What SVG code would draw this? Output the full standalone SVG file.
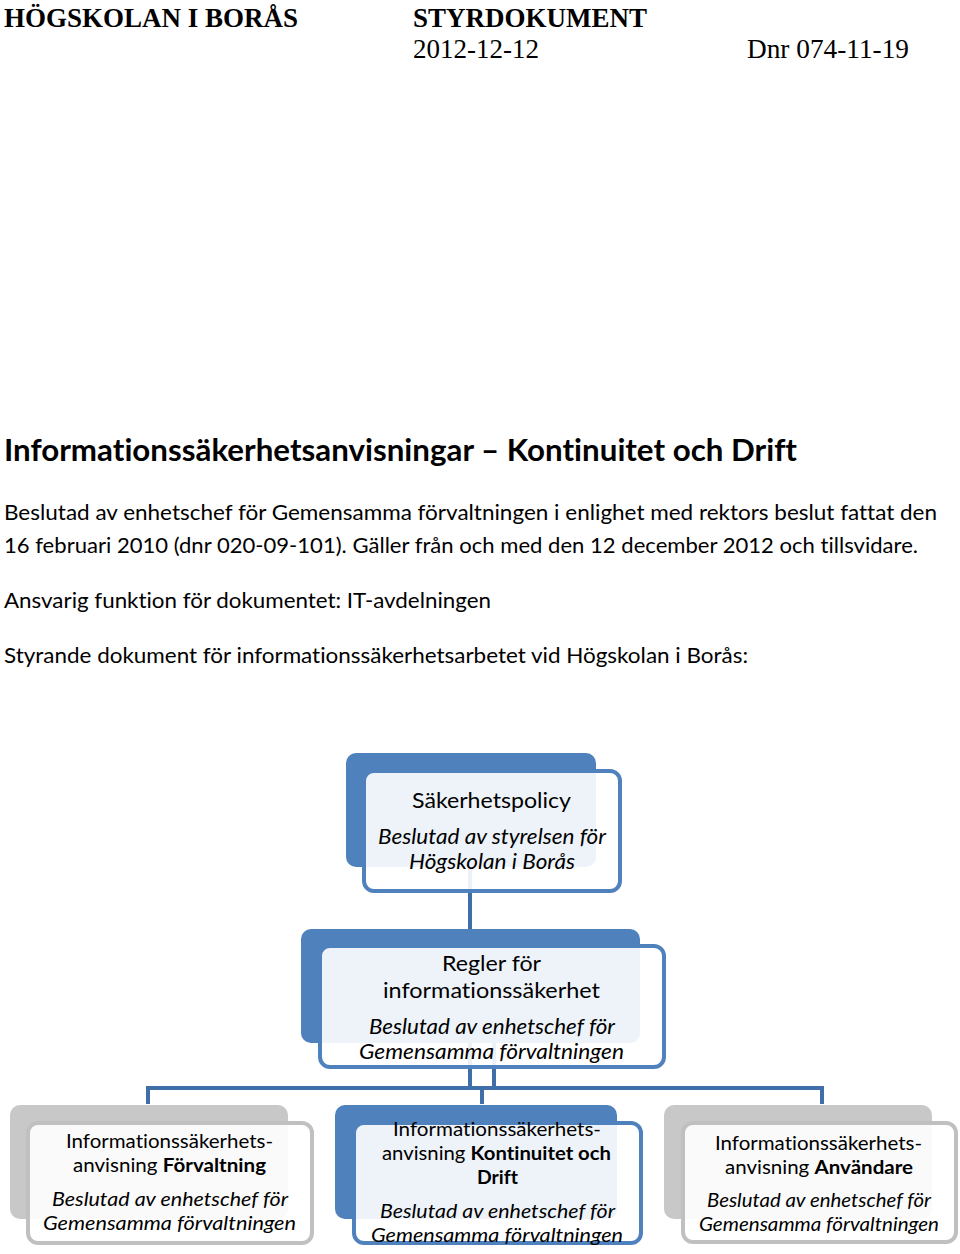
<svg xmlns="http://www.w3.org/2000/svg" width="960" height="1254" viewBox="0 0 960 1254">
<style>
text{font-variant-ligatures:none}
.hdr{font-family:"Liberation Serif","Times New Roman",serif;font-size:27px;fill:#000}
.b{font-weight:bold}
.doc{font-family:Lato,"Noto Sans",sans-serif;font-size:22px;fill:#000}
.title{font-family:Lato,"Noto Sans",sans-serif;font-size:30px;font-weight:bold;fill:#000}
.nt{font-family:Lato,"Noto Sans",sans-serif;font-size:21px;fill:#000;text-anchor:middle}
.ct{font-family:Lato,"Noto Sans",sans-serif;font-size:19.5px;fill:#000;text-anchor:middle}
.it{font-style:italic}
.backB{fill:#4f81bd}
.backG{fill:#c8c8c8}
.frontB{fill:#fff;fill-opacity:0.9;stroke:#4f81bd;stroke-width:4}
.frontG{fill:#fff;fill-opacity:0.9;stroke:#c0c0c0;stroke-width:4}
.conn{stroke:#3f6ea8;stroke-width:4;fill:none}
</style>
<rect width="960" height="1254" fill="#fff"/>
<g id="header">
<text class="hdr b" x="4" y="27" textLength="294" lengthAdjust="spacingAndGlyphs">HÖGSKOLAN I BORÅS</text>
<text class="hdr b" x="413" y="27" textLength="234" lengthAdjust="spacingAndGlyphs">STYRDOKUMENT</text>
<text class="hdr" x="413" y="58" textLength="126" lengthAdjust="spacingAndGlyphs">2012-12-12</text>
<text class="hdr" x="747" y="58" textLength="162" lengthAdjust="spacingAndGlyphs">Dnr 074-11-19</text>
</g>
<g id="intro">
<text class="title" x="4" y="461" textLength="793" lengthAdjust="spacingAndGlyphs">Informationssäkerhetsanvisningar – Kontinuitet och Drift</text>
<text class="doc" x="4" y="520" textLength="933" lengthAdjust="spacingAndGlyphs">Beslutad av enhetschef för Gemensamma förvaltningen i enlighet med rektors beslut fattat den</text>
<text class="doc" x="4" y="553" textLength="914" lengthAdjust="spacingAndGlyphs">16 februari 2010 (dnr 020-09-101). Gäller från och med den 12 december 2012 och tillsvidare.</text>
<text class="doc" x="4" y="608" textLength="487" lengthAdjust="spacingAndGlyphs">Ansvarig funktion för dokumentet: IT-avdelningen</text>
<text class="doc" x="4" y="663" textLength="744" lengthAdjust="spacingAndGlyphs">Styrande dokument för informationssäkerhetsarbetet vid Högskolan i Borås:</text>
</g>
<g id="connectors">
<line class="conn" x1="470" y1="865" x2="470" y2="929"/>
<line class="conn" x1="470" y1="1043" x2="470" y2="1088"/>
<line class="conn" x1="494" y1="1043" x2="494" y2="1088"/>
<line class="conn" x1="146" y1="1088" x2="824" y2="1088"/>
<line class="conn" x1="148" y1="1086" x2="148" y2="1104"/>
<line class="conn" x1="482" y1="1086" x2="482" y2="1104"/>
<line class="conn" x1="822" y1="1086" x2="822" y2="1104"/>
</g>
<g id="node-sakerhetspolicy">
<rect class="backB" x="346" y="753" width="250" height="114" rx="10"/>
<rect class="frontB" x="364" y="771" width="256" height="120" rx="10"/>
<text class="nt" x="491.5" y="808" textLength="159" lengthAdjust="spacingAndGlyphs">Säkerhetspolicy</text>
<text class="nt it" x="492" y="844" textLength="228" lengthAdjust="spacingAndGlyphs">Beslutad av styrelsen för</text>
<text class="nt it" x="492" y="869" textLength="166" lengthAdjust="spacingAndGlyphs">Högskolan i Borås</text>
</g>
<g id="node-regler">
<rect class="backB" x="301" y="929" width="339" height="114" rx="10"/>
<rect class="frontB" x="320" y="946" width="344" height="121" rx="10"/>
<text class="nt" x="491.5" y="971" textLength="99" lengthAdjust="spacingAndGlyphs">Regler för</text>
<text class="nt" x="491.5" y="998" textLength="217" lengthAdjust="spacingAndGlyphs">informationssäkerhet</text>
<text class="nt it" x="492" y="1034" textLength="246" lengthAdjust="spacingAndGlyphs">Beslutad av enhetschef för</text>
<text class="nt it" x="491.5" y="1059" textLength="265" lengthAdjust="spacingAndGlyphs">Gemensamma förvaltningen</text>
</g>
<g id="node-forvaltning">
<rect class="backG" x="10" y="1105" width="278" height="114" rx="10"/>
<rect class="frontG" x="28" y="1123" width="284" height="120" rx="10"/>
<text class="ct" x="169.5" y="1148" textLength="207" lengthAdjust="spacingAndGlyphs">Informationssäkerhets-</text>
<text class="ct" x="169.5" y="1172" textLength="193" lengthAdjust="spacingAndGlyphs">anvisning <tspan class="b">Förvaltning</tspan></text>
<text class="ct it" x="170" y="1206" textLength="236" lengthAdjust="spacingAndGlyphs">Beslutad av enhetschef för</text>
<text class="ct it" x="169.5" y="1230" textLength="253" lengthAdjust="spacingAndGlyphs">Gemensamma förvaltningen</text>
</g>
<g id="node-kontinuitet">
<rect class="backB" x="335" y="1105" width="282" height="114" rx="10"/>
<rect class="frontB" x="354" y="1123" width="287" height="120" rx="10"/>
<text class="ct" x="497" y="1136" textLength="208" lengthAdjust="spacingAndGlyphs">Informationssäkerhets-</text>
<text class="ct" x="496.5" y="1160" textLength="229" lengthAdjust="spacingAndGlyphs">anvisning <tspan class="b">Kontinuitet och</tspan></text>
<text class="ct b" x="497.5" y="1184" textLength="41" lengthAdjust="spacingAndGlyphs">Drift</text>
<text class="ct it" x="497.5" y="1218" textLength="235" lengthAdjust="spacingAndGlyphs">Beslutad av enhetschef för</text>
<text class="ct it" x="497" y="1242" textLength="252" lengthAdjust="spacingAndGlyphs">Gemensamma förvaltningen</text>
</g>
<g id="node-anvandare">
<rect class="backG" x="664" y="1105" width="268" height="114" rx="10"/>
<rect class="frontG" x="683" y="1123" width="273" height="119" rx="10"/>
<text class="ct" x="818.5" y="1150" textLength="207" lengthAdjust="spacingAndGlyphs">Informationssäkerhets-</text>
<text class="ct" x="819" y="1174" textLength="188" lengthAdjust="spacingAndGlyphs">anvisning <tspan class="b">Användare</tspan></text>
<text class="ct it" x="819" y="1207" textLength="224" lengthAdjust="spacingAndGlyphs">Beslutad av enhetschef för</text>
<text class="ct it" x="819" y="1231" textLength="240" lengthAdjust="spacingAndGlyphs">Gemensamma förvaltningen</text>
</g>
</svg>
